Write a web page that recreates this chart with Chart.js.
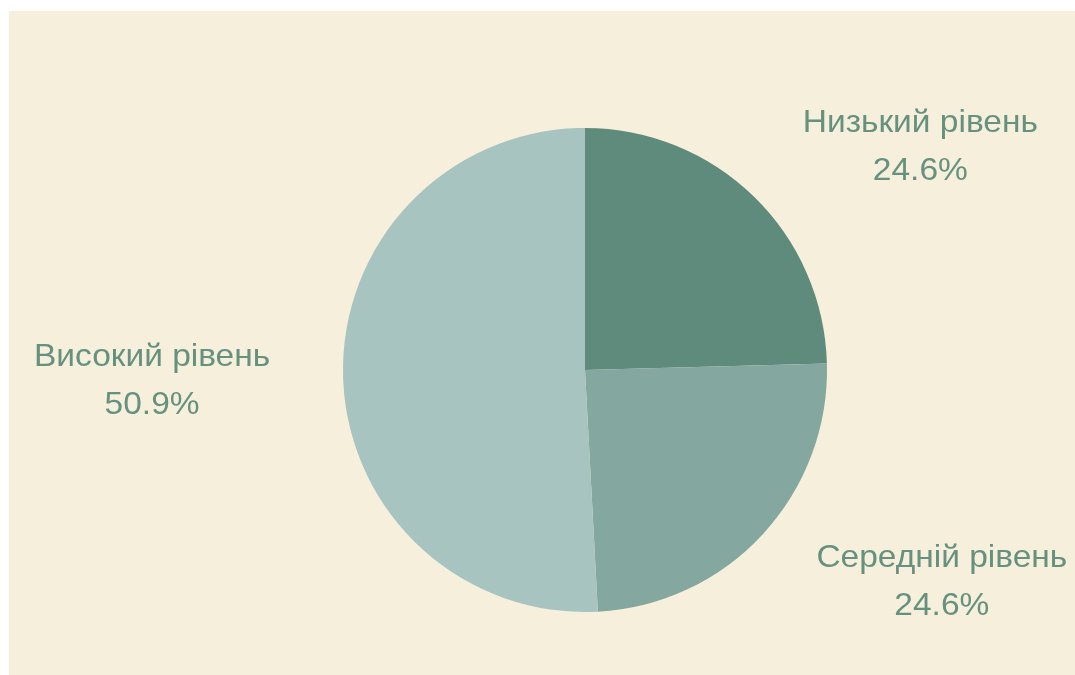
<!DOCTYPE html>
<html><head><meta charset="utf-8">
<script src="https://cdn.jsdelivr.net/npm/chart.js@4"></script>
<style>
html,body{margin:0;padding:0;background:#fff;}
#wrap{position:absolute;left:9px;top:11px;width:1066px;height:664px;background:#F5EFDB;}
canvas{display:block;}
</style></head><body>
<div id="wrap"><canvas id="c" width="1066" height="664"></canvas></div>
<script>
const categories = ["Низький рівень", "Середній рівень", "Високий рівень"];
const values = [24.6, 24.6, 50.9];
const valueLabels = ["24.6%", "24.6%", "50.9%"];
const colors = ["#5F8B7D", "#84A79F", "#A7C4C0"];
const labelOffsets = [[166.5, -40.5], [179, 57], [-191, 14]];

const outsideLabels = {
  id: 'outsideLabels',
  afterDraw(chart) {
    const ctx = chart.ctx;
    const meta = chart.getDatasetMeta(0);
    const sx = 1.063;
    ctx.save();
    ctx.fillStyle = '#66917F';
    ctx.font = '31.5px "Liberation Sans", Arial, sans-serif';
    ctx.textAlign = 'center';
    ctx.textBaseline = 'alphabetic';
    meta.data.forEach((arc, i) => {
      const mid = (arc.startAngle + arc.endAngle) / 2;
      const x = arc.x + Math.cos(mid) * arc.outerRadius + labelOffsets[i][0];
      const y = arc.y + Math.sin(mid) * arc.outerRadius + labelOffsets[i][1];
      ctx.save();
      ctx.translate(x, y);
      ctx.scale(sx, 1);
      ctx.fillText(categories[i], 0, -24);
      ctx.fillText(valueLabels[i], 0, 24);
      ctx.restore();
    });
    ctx.restore();
  }
};

new Chart(document.getElementById('c'), {
  type: 'pie',
  data: { labels: categories, datasets: [{ data: values, backgroundColor: colors, borderWidth: 0 }] },
  options: {
    responsive: false, animation: false,
    layout: { padding: { left: 300, right: 214, top: 117, bottom: 63 } },
    plugins: { legend: { display: false }, tooltip: { enabled: false } }
  },
  plugins: [outsideLabels]
});
</script>
</body></html>
